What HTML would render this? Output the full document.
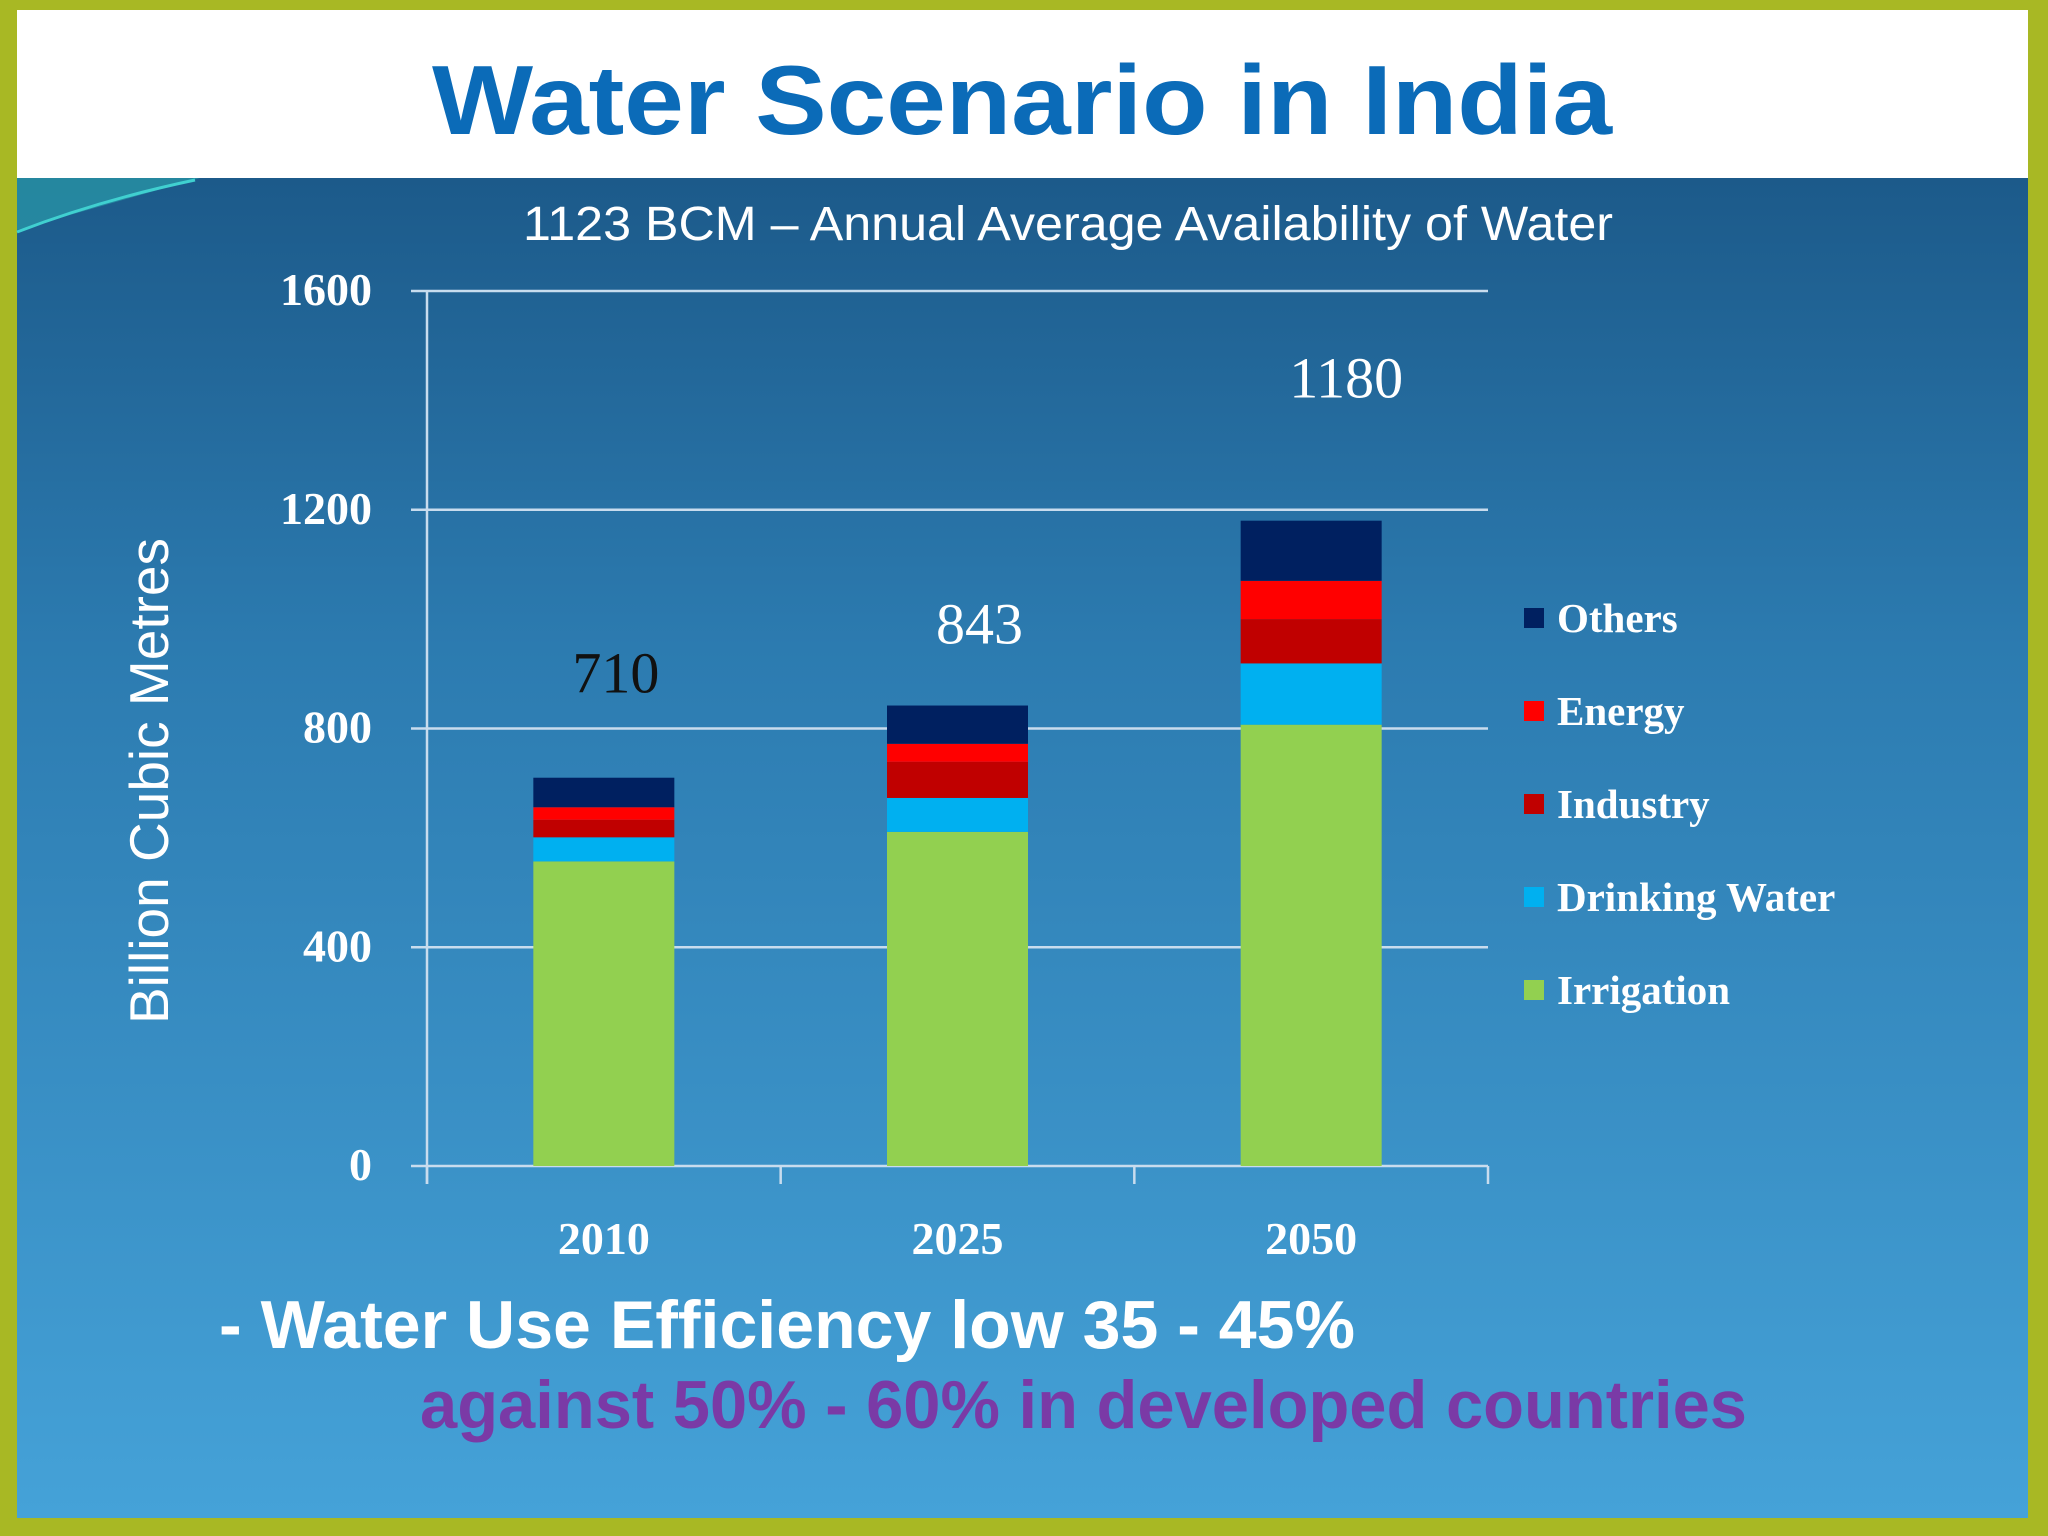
<!DOCTYPE html>
<html><head><meta charset="utf-8"><style>
html,body{margin:0;padding:0;width:2048px;height:1536px;overflow:hidden;background:#a8b824}
svg{display:block}
</style></head><body>
<svg id="chart" width="2048" height="1536" viewBox="0 0 2048 1536" xmlns="http://www.w3.org/2000/svg">
<defs>
<linearGradient id="bg" x1="0" y1="0" x2="0" y2="1">
<stop offset="0" stop-color="#1c5a8a"/><stop offset="0.35" stop-color="#2c7bb0"/><stop offset="1" stop-color="#45a2d8"/>
</linearGradient>
</defs>
<rect x="0" y="0" width="2048" height="1536" fill="#a8b824"/>
<rect x="17" y="178" width="2011" height="1340" fill="url(#bg)"/>
<rect x="17" y="10" width="2011" height="168" fill="#ffffff"/>
<path d="M17 178 L200 178 L17 230 Z" fill="#2a9aa8" opacity="0.7"/>
<path d="M17 232 Q100 200 195 180" stroke="#40d0d0" stroke-width="3" fill="none"/>
<text x="1022" y="134" text-anchor="middle" font-family="'Liberation Sans',sans-serif" font-weight="bold" font-size="98" fill="#0b6bb8" textLength="1180" lengthAdjust="spacingAndGlyphs">Water Scenario in India</text>
<text x="1068" y="240" text-anchor="middle" font-family="'Liberation Sans',sans-serif" font-size="48" fill="#ffffff" textLength="1090" lengthAdjust="spacingAndGlyphs">1123 BCM – Annual Average Availability of Water</text>
<text transform="translate(168,781) rotate(-90)" text-anchor="middle" font-family="'Liberation Sans',sans-serif" font-size="55" fill="#ffffff">Billion Cubic Metres</text>
<g id="grid"></g>
<g id="bars"></g>
<g id="labels"></g>
<g id="legend"></g>
<text x="219" y="1348" font-family="'Liberation Sans',sans-serif" font-weight="bold" font-size="68" fill="#ffffff" textLength="1136" lengthAdjust="spacingAndGlyphs">- Water Use Efficiency low  35 - 45%</text>
<text x="420" y="1428" font-family="'Liberation Sans',sans-serif" font-weight="bold" font-size="68" fill="#7a3aa6" textLength="1327" lengthAdjust="spacingAndGlyphs">against 50% - 60% in developed countries</text>
</svg>
<script>
const categories = ["2010","2025","2050"];
const irrigation = [557,611,807];
const drinking = [44,62,112];
const industry = [32,66,81];
const energy = [23,33,70];
const others = [54,70,110];
const totals = ["710","843","1180"];
const yTicks = [0,400,800,1200,1600];
const seriesNames = ["Others","Energy","Industry","Drinking Water","Irrigation"];

const NS="http://www.w3.org/2000/svg";
const x0=427,x1=1488,yBase=1166,yTop=291,yMax=1600;
const yScale=v=>yBase-(v/yMax)*(yBase-yTop);
const band=(x1-x0)/categories.length;
const xCenter=i=>x0+band*(i+0.5);
const barW=141;
function mk(tag,attrs,parent){const e=document.createElementNS(NS,tag);for(const k in attrs)e.setAttribute(k,attrs[k]);parent.appendChild(e);return e;}
const grid=document.getElementById('grid'),bars=document.getElementById('bars'),labels=document.getElementById('labels'),legend=document.getElementById('legend');
const serif="'Liberation Serif',serif";
yTicks.forEach(t=>{
  const y=yScale(t);
  const l=mk('line',{x1:x0-16,x2:x1,y1:y,y2:y,stroke:'#c8dcee','stroke-width':2.5},grid);
  
  
  const tx=mk('text',{x:372,y:y+14,'text-anchor':'end','font-family':serif,'font-weight':'bold','font-size':46,fill:'#fff'},grid);
  tx.textContent=t;
  
  
});
const ax=mk('line',{x1:x0,x2:x0,y1:yTop,y2:yBase+18,stroke:'#c8dcee','stroke-width':2.5},grid);


for(let i=0;i<=categories.length;i++){
  const tk=mk('line',{x1:x0+band*i,x2:x0+band*i,y1:yBase,y2:yBase+18,stroke:'#c8dcee','stroke-width':2.5},grid);
  
  
}
const series=[["irrigation",irrigation,"#92d050"],["drinking-water",drinking,"#00b0f0"],["industry",industry,"#c00000"],["energy",energy,"#ff0000"],["others",others,"#002060"]];
const labOffX=[12,22,35], labOffY=[85,62,123];
categories.forEach((c,i)=>{
  let acc=0;
  series.forEach(([name,vals,col])=>{
    const y0=yScale(acc),y1=yScale(acc+vals[i]);acc+=vals[i];
    const r=mk('rect',{x:xCenter(i)-barW/2,y:y1,width:barW,height:y0-y1,fill:col},bars);
    
    
  });
  const xl=mk('text',{x:xCenter(i),y:1254,'text-anchor':'middle','font-family':serif,'font-weight':'bold','font-size':46,fill:'#fff'},labels);
  xl.textContent=c;
  
  
  const tl=mk('text',{x:xCenter(i)+labOffX[i],y:yScale(acc)-labOffY[i],'text-anchor':'middle','font-family':serif,'font-size':58,fill:i==0?'#111':'#fff'},labels);
  tl.textContent=totals[i];
  
  
});
const legCols=["#002060","#ff0000","#c00000","#00b0f0","#92d050"];
seriesNames.forEach((n,k)=>{
  const y=620+k*93;
  const s=mk('rect',{x:1524,y:y-12,width:20,height:20,fill:legCols[k]},legend);
  
  
  const t=mk('text',{x:1557,y:y+12,'font-family':serif,'font-weight':'bold','font-size':41,fill:'#fff'},legend);
  t.textContent=n;
  
  
});
</script>
</body></html>
